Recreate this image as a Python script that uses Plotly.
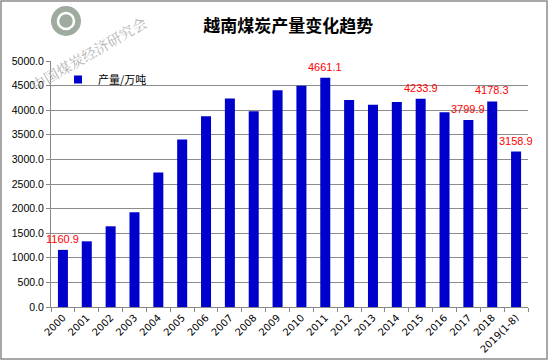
import plotly.graph_objects as go

years = ["2000", "2001", "2002", "2003", "2004", "2005", "2006", "2007", "2008", "2009",
         "2010", "2011", "2012", "2013", "2014", "2015", "2016", "2017", "2018", "2019(1-8)"]
output = [1160.9, 1335.0, 1640.0, 1925.0, 2735.0, 3405.0, 3875.0, 4240.0, 3980.0, 4405.0,
          4495.0, 4661.1, 4205.0, 4110.0, 4165.0, 4233.9, 3960.0, 3799.9, 4178.3, 3158.9]
labeled = ["2000", "2011", "2015", "2017", "2018", "2019(1-8)"]
series_name = "产量/万吨"
title = "越南煤炭产量变化趋势"
watermark = "中国煤炭经济研究会"

BAR_COLOR = "#0000CC"

fig = go.Figure()
fig.add_trace(go.Bar(
    x=years, y=output, name=series_name, showlegend=False,
    marker=dict(color=BAR_COLOR, line=dict(width=0)),
))
# legend entry (small square symbol like the original)
fig.add_trace(go.Scatter(
    x=[years[0]], y=[None], mode="markers", name=series_name,
    marker=dict(symbol="square", size=8, color=BAR_COLOR),
))

# value labels for selected bars (x given as category index)
for i, (yr, v) in enumerate(zip(years, output)):
    if yr in labeled:
        fig.add_annotation(x=i, y=v, text=f"{v:.1f}", showarrow=False,
                           xanchor="center", yanchor="bottom", yshift=3,
                           font=dict(color="#FF0000", size=11, family="Liberation Sans, Arial"))

L, R, T, B = 51, 21, 61, 56
W, H = 549, 363
pw, ph = W - L - R, H - T - B

def px(x):
    return (x - L) / pw

def py(y):
    return (H - B - y) / ph

fig.update_layout(
    width=W, height=H,
    margin=dict(l=L, r=R, t=T, b=B, autoexpand=False),
    paper_bgcolor="white", plot_bgcolor="white",
    title=dict(text=f"<b>{title}</b>", x=0.525, xanchor="center", y=1 - 26 / H, yanchor="middle",
               font=dict(size=17, color="black", family="Noto Sans CJK SC")),
    showlegend=True,
    legend=dict(x=px(58), y=py(65), xanchor="left", yanchor="top", bgcolor="rgba(0,0,0,0)",
                font=dict(size=11, color="black", family="Noto Sans CJK SC")),
    bargap=0.58,
    xaxis=dict(type="category", categoryorder="array", categoryarray=years,
               range=[-0.5, len(years) - 0.5], autorange=False,
               tickangle=-45, tickson="boundaries", ticks="outside", ticklen=4,
               tickcolor="#888888", showline=True, linecolor="#888888", linewidth=1,
               showgrid=False, automargin=False,
               tickfont=dict(size=10, color="black", family="DejaVu Sans, Liberation Sans")),
    yaxis=dict(range=[0, 5000], dtick=500, tickformat=".1f", showgrid=True, gridcolor="#8c8c8c",
               gridwidth=1, showline=True, linecolor="#888888", linewidth=1, ticks="outside",
               ticklen=4, tickcolor="#888888", zeroline=False, automargin=False,
               tickfont=dict(size=10.5, color="black", family="Liberation Sans, Arial")),
    font=dict(family="Noto Sans CJK SC"),
)

# outer chart border
fig.add_shape(type="rect", xref="paper", yref="paper",
              x0=px(1), x1=px(547), y0=py(359), y1=py(1),
              line=dict(color="#8c8c8c", width=1.5), fillcolor="rgba(0,0,0,0)", layer="below")

# watermark logo
fig.add_shape(type="circle", xref="paper", yref="paper",
              x0=px(51), x1=px(81), y0=py(36), y1=py(6),
              line=dict(width=0), fillcolor="#9eab9e", layer="below")
fig.add_shape(type="circle", xref="paper", yref="paper",
              x0=px(58), x1=px(74), y0=py(29), y1=py(13),
              line=dict(color="white", width=2.5), fillcolor="rgba(0,0,0,0)", layer="below")
fig.add_annotation(text=watermark, xref="paper", yref="paper", x=px(88), y=py(53),
                   xanchor="center", yanchor="middle",
                   showarrow=False, textangle=-30,
                   font=dict(size=14.5, color="#b4b4b4", family="Noto Serif CJK SC, DejaVu Serif"))

fig.write_html("out.html", config={"displayModeBar": False},
               post_script="document.body.style.margin='0px';")
